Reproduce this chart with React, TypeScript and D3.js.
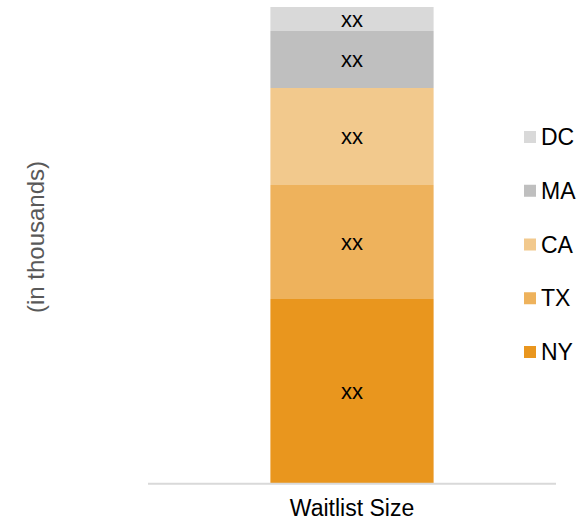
import React from "react";
import * as d3 from "d3";

const categories = ["Waitlist Size"];
const seriesNames = ["NY", "TX", "CA", "MA", "DC"];
const seriesValues = [36.8, 22.8, 19.4, 11.4, 4.8];
const segmentLabels = ["xx", "xx", "xx", "xx", "xx"];
const colors = ["#E9961E", "#EEB25C", "#F2C98D", "#BFBFBF", "#D9D9D9"];
const yLabel = "(in thousands)";

const W = 587;
const H = 523;

export default function App() {
  const plotLeft = 148;
  const plotRight = 556;
  const plotTop = 7;
  const plotBottom = 483;

  const x = d3.scaleBand().domain(categories).range([plotLeft, plotRight]).paddingInner(0.6).paddingOuter(0.299);
  const total = d3.sum(seriesValues);
  const y = d3.scaleLinear().domain([0, total]).range([plotBottom, plotTop]);

  const row: any = { cat: categories[0] };
  seriesNames.forEach((s, i) => (row[s] = seriesValues[i]));
  const stacked = d3.stack().keys(seriesNames)([row]);

  const font = "Arial, 'Liberation Sans', sans-serif";
  const legendYs = d3.scalePoint().domain([...seriesNames].reverse()).range([137, 352]);

  return (
    <svg width={W} height={H} style={{ position: "absolute", left: 0, top: 0 }} fontFamily={font}>
      <rect width={W} height={H} fill="#fff" />
      {stacked.map((layer, i) =>
        layer.map((d, j) => {
          const x0 = x(categories[j])!;
          const y0 = y(d[1]);
          const y1 = y(d[0]);
          return (
            <g key={`${i}-${j}`}>
              <rect x={x0} y={y0} width={x.bandwidth()} height={y1 - y0} fill={colors[i]} />
              <text x={x0 + x.bandwidth() / 2} y={(y0 + y1) / 2 + 7.5} textAnchor="middle" fontSize={22} fill="#000">
                {segmentLabels[i]}
              </text>
            </g>
          );
        })
      )}
      <line x1={plotLeft} x2={plotRight} y1={plotBottom + 0.7} y2={plotBottom + 0.7} stroke="#D9D9D9" strokeWidth={2} />
      {categories.map((c) => (
        <text key={c} x={x(c)! + x.bandwidth() / 2} y={516} textAnchor="middle" fontSize={23} fill="#000">
          {c}
        </text>
      ))}
      <text transform={`translate(44,237) rotate(-90)`} textAnchor="middle" fontSize={24} fill="#595959">
        {yLabel}
      </text>
      {seriesNames.map((s, i) => (
        <g key={s} transform={`translate(524,${legendYs(s)})`}>
          <rect x={0} y={-6} width={12} height={12} fill={colors[i]} />
          <text x={17} y={8} fontSize={23} fill="#000">
            {s}
          </text>
        </g>
      ))}
    </svg>
  );
}
